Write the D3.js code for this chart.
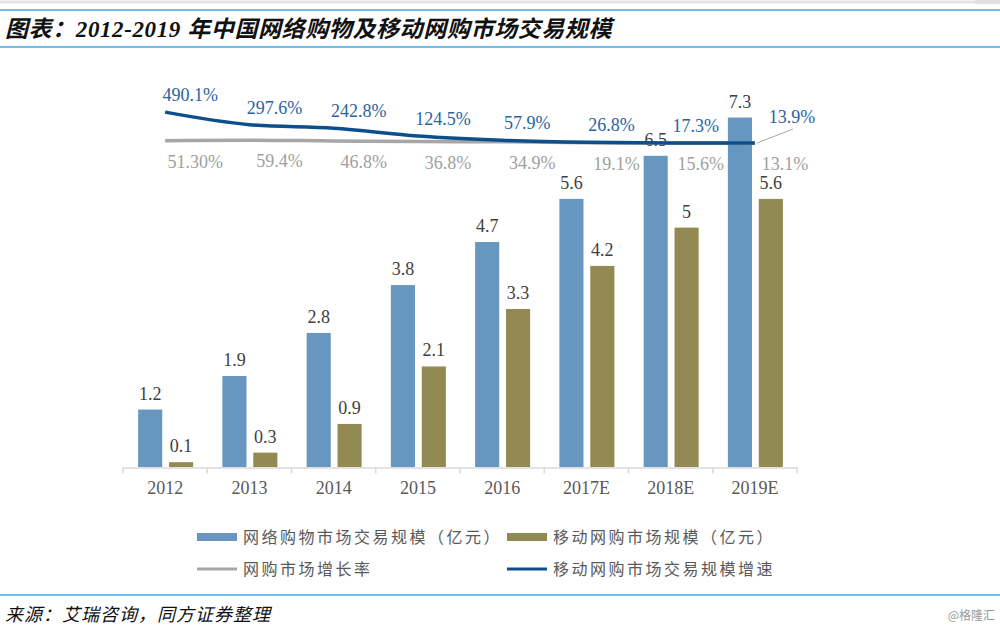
<!DOCTYPE html>
<meta charset="utf-8">
<script src="https://d3js.org/d3.v7.min.js"></script>
<style>
  body { margin: 0; background: #fff; }
  svg text { font-family: "Liberation Serif", "Noto Sans CJK SC", serif; }
</style>
<div id="chart"></div>
<script>
  // data
  var years = ["2012", "2013", "2014", "2015", "2016", "2017E", "2018E", "2019E"];
  var onlineShopping = [1.2, 1.9, 2.8, 3.8, 4.7, 5.6, 6.5, 7.3];   // 网络购物市场交易规模（亿元）
  var mobileShopping = [0.1, 0.3, 0.9, 2.1, 3.3, 4.2, 5, 5.6];     // 移动网购市场规模（亿元）
  var onlineGrowth = [51.3, 59.4, 46.8, 36.8, 34.9, 19.1, 15.6, 13.1]; // 网购市场增长率
  var mobileGrowth = [490.1, 297.6, 242.8, 124.5, 57.9, 26.8, 17.3, 13.9]; // 移动网购市场交易规模增速
  var onlineGrowthText = ["51.30%", "59.4%", "46.8%", "36.8%", "34.9%", "19.1%", "15.6%", "13.1%"];

  var blue = "#6796c0", olive = "#938953", navy = "#0d4f8c", grey = "#a6a6a6";

  var W = 1000, H = 633;
  var svg = d3.select("#chart").append("svg")
    .attr("width", W)
    .attr("height", H);

  // header / footer rules
  svg.append("line").attr("x1", 0).attr("x2", 975).attr("y1", 2).attr("y2", 2)
    .attr("stroke", "#e3e3e3").attr("stroke-width", 3);
  svg.append("rect").attr("x", 975).attr("y", 0).attr("width", 25).attr("height", 4).attr("fill", "#e0e0e0");
  svg.append("line").attr("x1", 0).attr("x2", W).attr("y1", 10).attr("y2", 10)
    .attr("stroke", "#6cc0ec").attr("stroke-width", 2);
  svg.append("line").attr("x1", 0).attr("x2", W).attr("y1", 47).attr("y2", 47)
    .attr("stroke", "#6cc0ec").attr("stroke-width", 2);
  svg.append("line").attr("x1", 0).attr("x2", W).attr("y1", 595).attr("y2", 595)
    .attr("stroke", "#6cc0ec").attr("stroke-width", 2);

  svg.append("text")
    .attr("x", 5).attr("y", 37)
    .attr("font-size", 23).attr("font-weight", "bold").attr("font-style", "italic")
    .attr("letter-spacing", 0.6)
    .attr("fill", "#111")
    .text("图表：2012-2019 年中国网络购物及移动网购市场交易规模");

  svg.append("text")
    .attr("x", 5).attr("y", 621)
    .attr("font-size", 18).attr("font-style", "italic")
    .attr("letter-spacing", 1)
    .attr("fill", "#111")
    .text("来源：艾瑞咨询，同方证券整理");

  svg.append("text")
    .attr("x", 995).attr("y", 620)
    .attr("text-anchor", "end")
    .attr("font-size", 12)
    .style("font-family", "'Noto Sans CJK SC', sans-serif")
    .attr("fill", "#999")
    .text("@格隆汇");

  // scales
  var x = d3.scaleBand().domain(years).range([123, 797]);
  var x1 = d3.scaleBand().domain(["online", "mobile"]).range([-27, 28]).paddingInner(0.22);
  var y = d3.scaleLinear().domain([0, 8]).range([467, 84]);
  var y2 = d3.scaleLinear().domain([0, 600]).range([144, 105]);
  var cx = function (d) { return x(d) + x.bandwidth() / 2; };

  // x axis
  var axis = svg.append("g")
    .attr("transform", "translate(0,467.5)")
    .call(d3.axisBottom(x).tickSize(0).tickPadding(14));
  axis.select(".domain").attr("stroke", "#d9d9d9").attr("stroke-width", 1.5);
  axis.selectAll("text")
    .attr("font-size", 18)
    .attr("fill", "#595959")
    .style("font-family", "'Liberation Serif', serif");
  var bounds = years.map(function (d) { return x(d); }).concat([x.range()[1]]);
  axis.selectAll(".bound").data(bounds).enter().append("line")
    .attr("x1", function (d) { return d; }).attr("x2", function (d) { return d; })
    .attr("y1", 0).attr("y2", 6)
    .attr("stroke", "#d9d9d9").attr("stroke-width", 1.5);

  // bars
  var series = [
    { key: "online", values: onlineShopping, color: blue },
    { key: "mobile", values: mobileShopping, color: olive }
  ];
  series.forEach(function (s) {
    var g = svg.append("g");
    g.selectAll("rect").data(s.values).enter().append("rect")
      .attr("x", function (d, i) { return cx(years[i]) + x1(s.key); })
      .attr("width", x1.bandwidth())
      .attr("y", function (d) { return y(d); })
      .attr("height", function (d) { return y(0) - y(d); })
      .attr("fill", s.color);
    g.selectAll("text").data(s.values).enter().append("text")
      .attr("x", function (d, i) { return cx(years[i]) + x1(s.key) + x1.bandwidth() / 2; })
      .attr("y", function (d) { return y(d) - 10; })
      .attr("text-anchor", "middle")
      .attr("font-size", 18)
      .attr("fill", "#404040")
      .text(function (d) { return d; });
  });

  // growth lines (secondary scale, hidden)
  var line = d3.line()
    .x(function (d, i) { return cx(years[i]); })
    .y(function (d) { return y2(d); })
    .curve(d3.curveMonotoneX);

  svg.append("path").datum(onlineGrowth)
    .attr("d", line)
    .attr("fill", "none").attr("stroke", grey).attr("stroke-width", 3.5);
  svg.append("path").datum(mobileGrowth)
    .attr("d", line)
    .attr("fill", "none").attr("stroke", navy).attr("stroke-width", 3.5);

  svg.append("g").selectAll("text").data(onlineGrowth).enter().append("text")
    .attr("x", function (d, i) { return cx(years[i]) + 30; })
    .attr("y", function (d) { return y2(d) + 27; })
    .attr("text-anchor", "middle")
    .attr("font-size", 18)
    .attr("fill", "#a0a0a0")
    .text(function (d, i) { return onlineGrowthText[i]; });

  var last = mobileGrowth.length - 1;
  svg.append("g").selectAll("text").data(mobileGrowth).enter().append("text")
    .attr("x", function (d, i) { return cx(years[i]) + (i === last ? 37 : 25); })
    .attr("y", function (d, i) { return y2(d) - (i === last ? 20 : 11); })
    .attr("text-anchor", "middle")
    .attr("font-size", 18)
    .attr("fill", "#2a64a0")
    .text(function (d) { return d.toFixed(1) + "%"; });
  // leader line for the last label
  svg.append("line")
    .attr("x1", cx(years[last]) + 2).attr("y1", y2(mobileGrowth[last]))
    .attr("x2", cx(years[last]) + 38).attr("y2", y2(mobileGrowth[last]) - 14)
    .attr("stroke", "#a6a6a6").attr("stroke-width", 1);

  // legend
  var legendItems = [
    { label: "网络购物市场交易规模（亿元）", color: blue, type: "rect", x: 197, y: 537 },
    { label: "移动网购市场规模（亿元）", color: olive, type: "rect", x: 507, y: 537 },
    { label: "网购市场增长率", color: grey, type: "line", x: 197, y: 569 },
    { label: "移动网购市场交易规模增速", color: navy, type: "line", x: 507, y: 569 }
  ];
  var legend = svg.append("g").selectAll("g").data(legendItems).enter().append("g")
    .attr("transform", function (d) { return "translate(" + d.x + "," + d.y + ")"; });
  legend.filter(function (d) { return d.type === "rect"; }).append("rect")
    .attr("x", 0).attr("y", -4).attr("width", 40).attr("height", 8)
    .attr("fill", function (d) { return d.color; });
  legend.filter(function (d) { return d.type === "line"; }).append("line")
    .attr("x1", 0).attr("x2", 40).attr("y1", 0).attr("y2", 0)
    .attr("stroke", function (d) { return d.color; }).attr("stroke-width", 3);
  legend.append("text")
    .attr("x", 46).attr("y", 6)
    .attr("font-size", 16)
    .attr("letter-spacing", 2.5)
    .attr("fill", "#595959")
    .style("font-family", "'Noto Sans CJK SC', sans-serif")
    .text(function (d) { return d.label; });
</script>
